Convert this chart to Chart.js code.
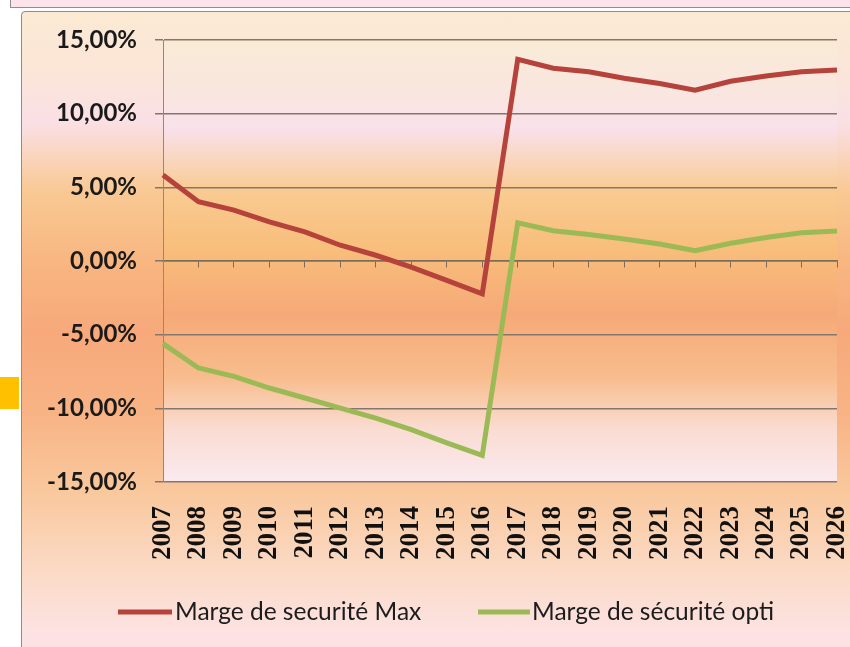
<!DOCTYPE html>
<html><head><meta charset="utf-8">
<script src="https://cdn.jsdelivr.net/npm/chart.js@4.4.0/dist/chart.umd.min.js"></script>
<style>
html,body{margin:0;padding:0;background:#fff;width:850px;height:647px;overflow:hidden;position:relative;}
#strip{position:absolute;left:10px;top:-3px;width:860px;height:9px;background:#FCE4EA;border:1px solid #8e8e8e;}
#yellow{position:absolute;left:0;top:377px;width:19px;height:32px;background:#FFC000;}
#box{position:absolute;left:21px;top:11px;width:860px;height:660px;border:1px solid #8c8c8c;border-radius:4px;
background:linear-gradient(to bottom,#FCEAD3 0px,#FBE5D8 60px,#FAE0E6 110px,#F9C993 180px,#F8B681 250px,#F7A97B 320px,#F8B384 400px,#F9C89D 480px,#FBDAC6 560px,#FCE2E2 620px,#FCE4E4 660px);}
#wrap{position:absolute;left:0;top:0;width:850px;height:647px;}
</style></head>
<body>
<div id="strip"></div><div id="yellow"></div><div id="box"></div>
<div id="wrap"><canvas id="c"></canvas></div>
<script>
const years = ['2007','2008','2009','2010','2011','2012','2013','2014','2015','2016','2017','2018','2019','2020','2021','2022','2023','2024','2025','2026'];
const margeMax = [5.84, 4.02, 3.45, 2.66, 1.98, 1.07, 0.39, -0.41, -1.32, -2.23, 13.69, 13.08, 12.85, 12.4, 12.05, 11.6, 12.2, 12.55, 12.85, 12.97];
const margeOpti = [-5.61, -7.26, -7.83, -8.62, -9.3, -9.98, -10.66, -11.45, -12.35, -13.2, 2.6, 2.05, 1.8, 1.5, 1.15, 0.7, 1.2, 1.6, 1.92, 2.04];
const seriesNames = ['Marge de securité Max', 'Marge de sécurité opti'];
const seriesColors = ['#B5433C', '#9BBA55'];
const yMin = -15, yMax = 15, yStep = 5;

const bgPlugin = {
  id: 'plotBg',
  beforeDraw(chart) {
    const {ctx, chartArea: a} = chart;
    const g = ctx.createLinearGradient(0, a.top, 0, a.bottom);
    g.addColorStop(0.00, '#F9EBD6');
    g.addColorStop(0.12, '#F9E6E0');
    g.addColorStop(0.20, '#F9E1EB');
    g.addColorStop(0.34, '#F9CB92');
    g.addColorStop(0.48, '#F8BD7A');
    g.addColorStop(0.62, '#F6A978');
    g.addColorStop(0.76, '#F8BC8C');
    g.addColorStop(0.88, '#FADCD2');
    g.addColorStop(1.00, '#FAEAF0');
    ctx.save();
    ctx.fillStyle = g;
    ctx.fillRect(a.left, a.top, a.right - a.left, a.bottom - a.top);
    ctx.restore();
  }
};

const legendPlugin = {
  id: 'customLegend',
  afterDraw(chart) {
    const ctx = chart.ctx;
    const items = [{x0: 118, x1: 172, tx: 175}, {x0: 478, x1: 530, tx: 532}];
    const y = 612;
    ctx.save();
    ctx.font = '24.5px Lato';
    ctx.textBaseline = 'middle';
    chart.data.datasets.forEach((ds, i) => {
      const it = items[i];
      ctx.strokeStyle = ds.borderColor;
      ctx.lineWidth = 5;
      ctx.beginPath(); ctx.moveTo(it.x0, y); ctx.lineTo(it.x1, y); ctx.stroke();
      ctx.fillStyle = '#1c1c1c';
      ctx.fillText(ds.label, it.tx, y);
    });
    ctx.restore();
  }
};

new Chart(document.getElementById('c'), {
  type: 'line',
  data: {
    labels: years,
    datasets: [
      {label: seriesNames[0], data: margeMax, borderColor: seriesColors[0], borderWidth: 5, pointRadius: 0, tension: 0, fill: false, xAxisID: 'x', yAxisID: 'y'},
      {label: seriesNames[1], data: margeOpti, borderColor: seriesColors[1], borderWidth: 5, pointRadius: 0, tension: 0, fill: false, xAxisID: 'x', yAxisID: 'y'}
    ]
  },
  options: {
    responsive: true, maintainAspectRatio: false, animation: false,
    layout: {padding: {left: 0, right: 13, top: 40, bottom: 0}},
    plugins: {legend: {display: false}, tooltip: {enabled: false}},
    scales: {
      x: {type: 'category', position: {y: 0}, offset: false,
          grid: {drawOnChartArea: false, drawTicks: true, tickLength: 6, color: '#7d6a58', lineWidth: 1},
          border: {display: true, color: '#7d6a58', width: 1.5},
          ticks: {display: false}},
      x2: {type: 'category', axis: 'x', position: 'bottom', offset: false, labels: years,
           grid: {display: false}, border: {display: false},
           ticks: {autoSkip: false, maxRotation: 90, minRotation: 90, padding: 16, color: '#111',
                   font: {family: 'Liberation Serif', weight: 'bold', size: 27}},
           afterFit: s => { s.height = 165; s.paddingLeft = 0; s.paddingRight = 0; }},
      y: {min: yMin, max: yMax,
          ticks: {stepSize: yStep, callback: v => v.toFixed(2).replace('.', ',') + '%', padding: 18, color: '#1a1a1a',
                  font: {family: 'Lato', weight: 'bold', size: 24}},
          grid: {color: '#85766a', lineWidth: 1.5, tickLength: 8},
          border: {color: '#8a8a8a', width: 1},
          afterFit: s => { s.width = 163; }}
    }
  },
  plugins: [bgPlugin, legendPlugin]
});
</script>
</body></html>
